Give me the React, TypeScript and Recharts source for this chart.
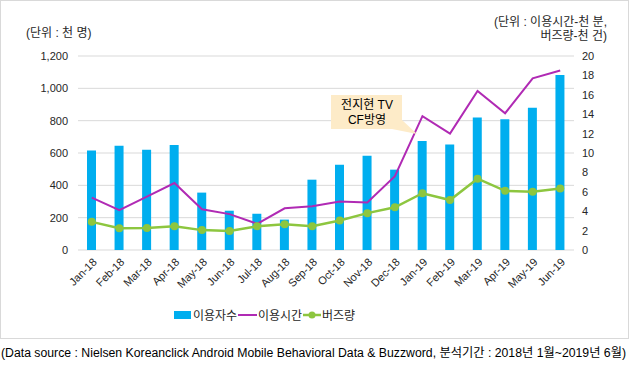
import React from "react";
import { ComposedChart, Bar, Line, XAxis, YAxis, CartesianGrid } from "recharts";

const months = ["Jan-18","Feb-18","Mar-18","Apr-18","May-18","Jun-18","Jul-18","Aug-18","Sep-18","Oct-18","Nov-18","Dec-18","Jan-19","Feb-19","Mar-19","Apr-19","May-19","Jun-19"];
const users = [615,645,620,650,355,243,225,188,435,528,583,497,675,652,820,808,880,1082];
const usageTime = [5.4,4.1,5.5,6.9,4.2,3.7,2.7,4.3,4.5,5.0,4.9,7.6,13.8,12.0,16.4,14.1,17.7,18.5];
const buzz = [2.9,2.25,2.27,2.45,2.05,1.97,2.45,2.65,2.45,3.05,3.8,4.4,5.85,5.15,7.35,6.1,6.0,6.35];
const leftTicks = [0,200,400,600,800,1000,1200];
const rightTicks = [0,2,4,6,8,10,12,14,16,18,20];
const seriesNames = ["이용자수","이용시간","버즈량"];

const data = months.map((m, i) => ({ month: m, idx: i + 0.5, users: users[i], usageTime: usageTime[i], buzz: buzz[i] }));

const FONT = "'Liberation Sans', Arial, 'Noto Sans CJK KR', sans-serif";
const BLUE = "#00AEEF";
const PURPLE = "#B02AB4";
const GREEN = "#8DC63F";
const TXT = "#262626";

const XTick = (props: any) => {
  const { x, y, payload } = props;
  const tx = x + 3;
  const ty = y + 2;
  return (
    <text x={tx} y={ty} transform={`rotate(-45 ${tx} ${ty})`} textAnchor="end" fontSize={11} fill={TXT} fontFamily={FONT} dy="0.35em">
      {payload.value}
    </text>
  );
};

const fmt = (v: number) => v.toLocaleString("en-US");

export default function App() {
  return (
    <div style={{ position: "absolute", left: 0, top: 0, width: 630, height: 367, background: "#fff", fontFamily: FONT }}>
      <div style={{ position: "absolute", left: 0, top: 0, width: 627, height: 337, border: "1px solid #d9d9d9", boxSizing: "content-box" }} />
      <div style={{ position: "absolute", left: 0, top: 0 }}>
        <ComposedChart width={630} height={300} data={data} margin={{ top: 56, right: 0, bottom: 0, left: 0 }}>
          <CartesianGrid vertical={false} stroke="#d9d9d9" yAxisId="left" />
          <XAxis xAxisId="b" type="number" dataKey="idx" domain={[0, 18]} ticks={[0,1,2,3,4,5,6,7,8,9,10,11,12,13,14,15,16,17,18]} height={0} tick={() => <g />} tickSize={5} stroke="#bfbfbf" axisLine={{ stroke: "#bfbfbf" }} />
          <XAxis xAxisId="a" dataKey="month" interval={0} height={50} axisLine={false} tickLine={false} tick={<XTick />} />
          <YAxis yAxisId="left" domain={[0, 1200]} ticks={leftTicks} width={78} axisLine={false} tickLine={false} tickFormatter={fmt} tick={{ fontSize: 11, fill: TXT, fontFamily: FONT }} tickMargin={4} />
          <YAxis yAxisId="right" orientation="right" domain={[0, 20]} ticks={rightTicks} width={56} axisLine={false} tickLine={false} tick={{ fontSize: 11, fill: TXT, fontFamily: FONT }} tickMargin={2} />
          <Bar xAxisId="a" yAxisId="left" dataKey="users" name={seriesNames[0]} fill={BLUE} barSize={9} isAnimationActive={false} />
          <Line xAxisId="a" yAxisId="right" dataKey="usageTime" name={seriesNames[1]} stroke={PURPLE} strokeWidth={2} dot={false} type="linear" isAnimationActive={false} />
          <Line xAxisId="a" yAxisId="right" dataKey="buzz" name={seriesNames[2]} stroke={GREEN} strokeWidth={2.5} dot={{ r: 4, fill: GREEN, stroke: GREEN, strokeWidth: 0 }} type="linear" isAnimationActive={false} />
        </ComposedChart>
      </div>
      <svg width={630} height={367} style={{ position: "absolute", left: 0, top: 0, pointerEvents: "none" }}>
        <text x={26} y={37} fontSize={12} fill={TXT} fontFamily={FONT}>(단위 : 천 명)</text>
        <text x={607} y={26} fontSize={12} fill={TXT} textAnchor="end" fontFamily={FONT}>(단위 : 이용시간-천 분,</text>
        <text x={607} y={40} fontSize={12} fill={TXT} textAnchor="end" fontFamily={FONT}>버즈량-천 건)</text>
        <polygon points="331,95 402,95 402,120 417,134 392,129 331,129" fill="#FDEBC8" />
        <text x={367} y={109} fontSize={12} fill="#000" textAnchor="middle" fontFamily={FONT}>전지현 TV</text>
        <text x={367} y={124} fontSize={12} fill="#000" textAnchor="middle" fontFamily={FONT}>CF방영</text>
        <rect x={174} y={311} width={17} height={8} fill={BLUE} />
        <text x={193} y={320} fontSize={12} fill={TXT} fontFamily={FONT}>{seriesNames[0]}</text>
        <line x1={238} y1={315} x2={257} y2={315} stroke={PURPLE} strokeWidth={2} />
        <text x={258} y={320} fontSize={12} fill={TXT} fontFamily={FONT}>{seriesNames[1]}</text>
        <line x1={303} y1={315} x2={321} y2={315} stroke={GREEN} strokeWidth={2.5} />
        <circle cx={312} cy={315} r={3.5} fill={GREEN} />
        <text x={322} y={320} fontSize={12} fill={TXT} fontFamily={FONT}>{seriesNames[2]}</text>
        <text x={1} y={357} fontSize={12} fill="#000" fontFamily={FONT} textLength={625} lengthAdjust="spacingAndGlyphs">(Data source : Nielsen Koreanclick Android Mobile Behavioral  Data &amp; Buzzword, 분석기간 : 2018년 1월~2019년 6월)</text>
      </svg>
    </div>
  );
}
